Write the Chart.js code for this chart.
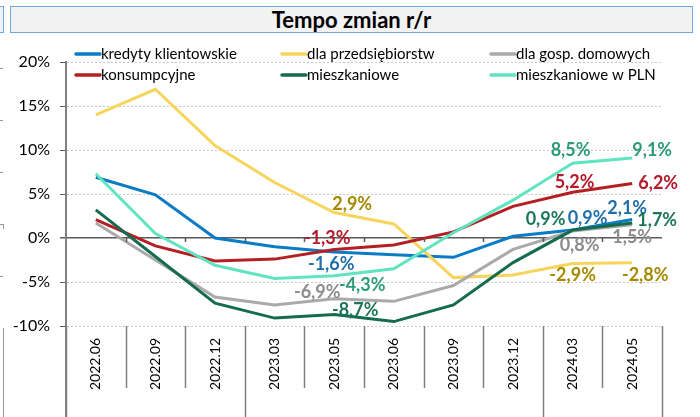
<!DOCTYPE html>
<html>
<head>
<meta charset="utf-8">
<script src="https://cdn.jsdelivr.net/npm/chart.js@4.4.1/dist/chart.umd.min.js"></script>
<style>
  body { margin: 0; background: #fff; }
  #wrap { position: relative; width: 700px; height: 417px; overflow: hidden; font-family: Lato, sans-serif; }
  #title { position: absolute; left: 10px; top: 6px; width: 681px; height: 25px; background: #f2f2f2;
           border: 1px solid #6fa8dc; text-align: center; font: bold 22px Lato, sans-serif; line-height: 25px; color: #000; }
  #sideBox { position: absolute; left: -10px; top: 6px; width: 12px; height: 25px; background: #f2f2f2; border: 1px solid #6fa8dc; }
  .frag { position: absolute; background: #999; }
  canvas { position: absolute; left: 0; top: 0; }
</style>
</head>
<body>
<div id="wrap">
  <canvas id="tempoChart" width="700" height="417"></canvas>
  <div id="sideBox"></div>
  <div id="title">Tempo zmian r/r</div>
  <div class="frag" style="left:0;top:68px;width:3px;height:1px"></div>
  <div class="frag" style="left:0;top:120px;width:3px;height:1px"></div>
  <div class="frag" style="left:0;top:172px;width:3px;height:1px"></div>
  <div class="frag" style="left:0;top:224px;width:4px;height:1px"></div>
  <div class="frag" style="left:3px;top:224px;width:1px;height:5px"></div>
  <div class="frag" style="left:0;top:276px;width:3px;height:1px"></div>
  <div class="frag" style="left:3px;top:328px;width:1px;height:89px"></div>
</div>
<script>
// data
const labels = ['2022.06', '2022.09', '2022.12', '2023.03', '2023.05', '2023.06', '2023.09', '2023.12', '2024.03', '2024.05'];
const kredyty = [6.9, 4.9, 0.0, -1.0, -1.6, -1.9, -2.2, 0.2, 0.9, 2.1];
const przedsiebiorstw = [14.0, 16.9, 10.5, 6.3, 2.9, 1.6, -4.5, -4.2, -2.9, -2.8];
const gospDomowych = [1.7, -2.5, -6.7, -7.6, -6.9, -7.2, -5.4, -1.3, 0.8, 1.5];
const konsumpcyjne = [2.1, -0.9, -2.6, -2.4, -1.3, -0.8, 0.7, 3.6, 5.2, 6.2];
const mieszkaniowe = [3.2, -2.1, -7.4, -9.1, -8.7, -9.5, -7.6, -2.8, 0.9, 1.7];
const mieszkaniowePLN = [7.3, 0.5, -3.1, -4.6, -4.3, -3.5, 0.6, 4.3, 8.5, 9.1];
const yTicks = [-10, -5, 0, 5, 10, 15, 20];

// which points get a value label, and where the label sits relative to the point
const labelPlacement = [
    [[4, -3, 12], [8, 15, -12], [9, -5, -11]],
    [[4, 18, -8], [8, 0, 12], [9, 13, 13]],
    [[4, -17, -7], [8, 7, 14], [9, 0, 12]],
    [[4, -7, -11], [8, 2, -10], [9, 26, 0]],
    [[4, 21, -4], [8, -27, -11], [9, 25, -3]],
    [[4, 28, 9], [8, -2, -13], [9, 20, -8]]
];
const labelColors = ['#1f6fa8', '#a48a00', '#8c8c8c', '#b5192a', '#1b7556', '#2d9b78'];

function fmt(v) {
    return v.toFixed(1).replace('.', ',') + '%';
}

// legend drawn over the top of the plot, three columns
const legendPlugin = {
    id: 'overlayLegend',
    afterDraw(chart) {
        const ctx = chart.ctx;
        const cols = [76, 282, 491];
        const rows = [54, 75];
        ctx.save();
        ctx.font = '15px Lato, sans-serif';
        ctx.textBaseline = 'middle';
        chart.data.datasets.forEach((ds, i) => {
            const x = cols[i % 3];
            const y = rows[Math.floor(i / 3)];
            ctx.strokeStyle = ds.borderColor;
            ctx.lineWidth = 3.5;
            ctx.lineCap = 'round';
            ctx.beginPath();
            ctx.moveTo(x, y);
            ctx.lineTo(x + 24, y);
            ctx.stroke();
            ctx.fillStyle = '#000';
            ctx.fillText(ds.label, x + 25, y);
        });
        ctx.restore();
    }
};

// category separators below the plot and small ticks on the 0 line
const axisPlugin = {
    id: 'categoryLines',
    afterDraw(chart) {
        const ctx = chart.ctx;
        const xs = chart.scales.x;
        const ys = chart.scales.y;
        const area = chart.chartArea;
        const step = xs.getPixelForValue(1) - xs.getPixelForValue(0);
        const y0 = ys.getPixelForValue(0);
        ctx.save();
        ctx.strokeStyle = '#7f7f7f';
        ctx.lineWidth = 1.5;
        for (let i = 0; i <= labels.length; i++) {
            const x = Math.round(xs.getPixelForValue(i) - step / 2) + 0.5;
            const longLine = (i === 0 || i === 3 || i === 8 || i === labels.length);
            ctx.beginPath();
            ctx.moveTo(x, area.bottom);
            ctx.lineTo(x, longLine ? 417 : 388);
            ctx.stroke();
            if (i > 0 && i < labels.length) {
                ctx.strokeStyle = '#595959';
                ctx.beginPath();
                ctx.moveTo(x, y0);
                ctx.lineTo(x, y0 + 4);
                ctx.stroke();
                ctx.strokeStyle = '#7f7f7f';
            }
        }
        ctx.lineWidth = 2;
        ctx.beginPath();
        ctx.moveTo(area.left, area.bottom);
        ctx.lineTo(area.left, 417);
        ctx.stroke();
        ctx.restore();
    }
};

const valueLabelPlugin = {
    id: 'valueLabels',
    afterDatasetsDraw(chart) {
        const ctx = chart.ctx;
        ctx.save();
        ctx.font = 'bold 18px Lato, sans-serif';
        ctx.textAlign = 'center';
        ctx.textBaseline = 'middle';
        chart.data.datasets.forEach((ds, i) => {
            const meta = chart.getDatasetMeta(i);
            ctx.fillStyle = labelColors[i];
            labelPlacement[i].forEach(([idx, dx, dy]) => {
                const pt = meta.data[idx];
                ctx.fillText(fmt(ds.data[idx]), pt.x + dx, pt.y + dy);
            });
        });
        ctx.restore();
    }
};

function series(label, data, color, order) {
    return {
        label: label,
        data: data,
        borderColor: color,
        backgroundColor: color,
        borderWidth: 3,
        pointRadius: 0,
        tension: 0,
        fill: false,
        order: order
    };
}

const ctx = document.getElementById('tempoChart').getContext('2d');
new Chart(ctx, {
    type: 'line',
    data: {
        labels: labels,
        datasets: [
            series('kredyty klientowskie', kredyty, '#0a7bc4', 6),
            series('dla przedsiębiorstw', przedsiebiorstw, '#f7d55c', 5),
            series('dla gosp. domowych', gospDomowych, '#aaaaaa', 4),
            series('konsumpcyjne', konsumpcyjne, '#b41f23', 3),
            series('mieszkaniowe', mieszkaniowe, '#156b50', 2),
            series('mieszkaniowe w PLN', mieszkaniowePLN, '#5fe3c1', 1)
        ]
    },
    options: {
        responsive: false,
        animation: false,
        layout: { padding: { left: 0, right: 38, top: 62, bottom: 0 } },
        plugins: {
            legend: { display: false },
            tooltip: { enabled: false }
        },
        scales: {
            x: {
                offset: true,
                grid: { display: false },
                border: { display: false },
                ticks: {
                    maxRotation: 90,
                    minRotation: 90,
                    padding: 4,
                    color: '#000',
                    font: { family: 'Lato', size: 14 }
                },
                afterFit: (s) => { s.height = 91; }
            },
            y: {
                min: -10,
                max: 20,
                afterBuildTicks: (s) => { s.ticks = yTicks.map(v => ({ value: v })); },
                grid: {
                    color: (c) => c.tick && c.tick.value === 0 ? '#595959' : '#c8c8c8',
                    lineWidth: (c) => c.tick && c.tick.value === 0 ? 1.5 : 1,
                    tickColor: '#595959',
                    tickLength: 6
                },
                border: {
                    color: '#808080',
                    width: 2,
                    dash: (c) => c.tick && c.tick.value !== 0 ? [2, 2] : []
                },
                ticks: {
                    padding: 10,
                    color: '#000',
                    font: { family: 'Lato', size: 16 },
                    callback: (v) => v + '%'
                },
                afterFit: (s) => { s.width = 66; }
            }
        }
    },
    plugins: [legendPlugin, axisPlugin, valueLabelPlugin]
});
</script>
</body>
</html>
